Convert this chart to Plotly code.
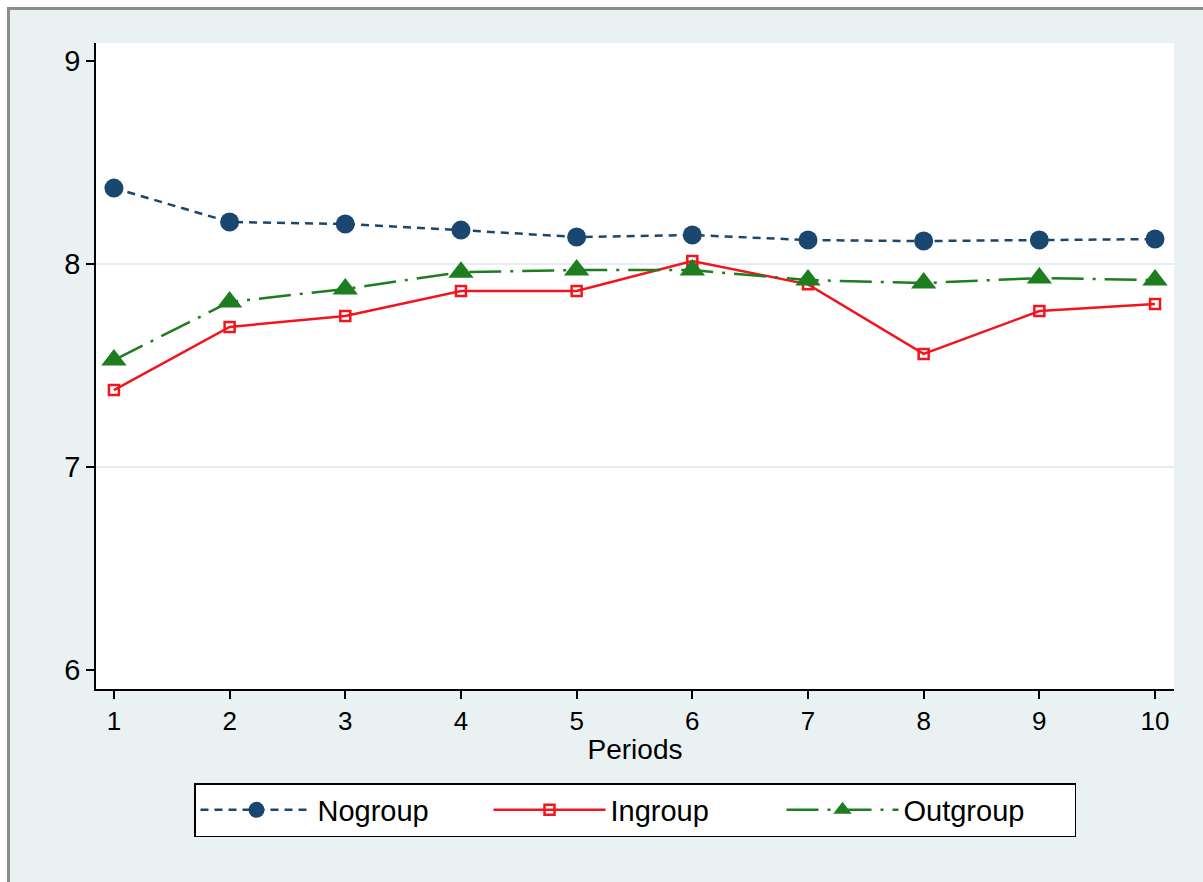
import plotly.graph_objects as go

periods = [1, 2, 3, 4, 5, 6, 7, 8, 9, 10]
nogroup = [8.374, 8.207, 8.197, 8.167, 8.133, 8.143, 8.118, 8.113, 8.118, 8.123]
ingroup = [7.379, 7.690, 7.744, 7.867, 7.867, 8.015, 7.900, 7.557, 7.768, 7.803]
outgroup = [7.527, 7.813, 7.877, 7.960, 7.970, 7.970, 7.921, 7.906, 7.931, 7.921]
y_ticks = [6, 7, 8, 9]
grid_values = [7, 8]

BG = "#EAF1F3"
GRID = "#E4EEF1"
NAVY = "#1A476F"
RED = "#F2141E"
GREEN = "#1E7D1E"

fig = go.Figure()
fig.add_trace(go.Scatter(
    x=periods, y=nogroup, name="Nogroup", mode="lines+markers",
    line=dict(color=NAVY, width=2.5, dash="8px,6px"),
    marker=dict(symbol="circle", size=19, color=NAVY),
))
fig.add_trace(go.Scatter(
    x=periods, y=ingroup, name="Ingroup", mode="lines+markers",
    line=dict(color=RED, width=2.5),
    marker=dict(symbol="square-open", size=10, color=RED, line=dict(width=2.5, color=RED)),
))
fig.add_trace(go.Scatter(
    x=periods, y=outgroup, name="Outgroup", mode="lines+markers",
    line=dict(color=GREEN, width=2.5, dash="32px,9px,3px,9px"),
    marker=dict(symbol="triangle-up", size=22, color=GREEN),
))

W, H = 1203, 882
L, R, T, B = 96, 1174, 43, 689
PW, PH = R - L, B - T


def px_x(x):
    return (x - L) / PW


def px_y(y):
    return (B - y) / PH


fig.update_layout(
    width=W, height=H,
    margin=dict(l=L, r=W - R, t=T, b=H - B, autoexpand=False),
    paper_bgcolor=BG, plot_bgcolor="white",
    font=dict(family="Liberation Sans, Arial, sans-serif", color="black", size=27),
    showlegend=True,
    legend=dict(
        orientation="h", x=0.5, xanchor="center", y=px_y(783), yanchor="top",
        bgcolor="white", bordercolor="black", borderwidth=1.5,
        font=dict(size=29), itemwidth=112, entrywidth=166,
        tracegroupgap=0,
    ),
    xaxis=dict(
        range=[0.845, 10.164], tickvals=periods, ticks="outside", ticklen=8,
        tickwidth=1.5, tickcolor="black", showline=True, linecolor="black",
        linewidth=1.5, showgrid=False, zeroline=False,
        title=dict(text="Periods", font=dict(size=28), standoff=4),
        tickfont=dict(size=26),
    ),
    yaxis=dict(
        range=[5.906, 9.089], tickvals=y_ticks, ticks="outside", ticklen=8,
        tickwidth=1.5, tickcolor="black", showline=True, linecolor="black",
        linewidth=1.5, showgrid=False, zeroline=False, tickfont=dict(size=29),
    ),
)

for g in grid_values:
    fig.add_shape(type="line", xref="paper", yref="y", x0=0, x1=1, y0=g, y1=g,
                  line=dict(color=GRID, width=2), layer="below")

# outer frame: white strips at top/left and gray border lines
fig.add_shape(type="rect", xref="paper", yref="paper",
              x0=px_x(-5), x1=px_x(W + 5), y0=px_y(7), y1=px_y(-5),
              fillcolor="white", line_width=0, layer="below")
fig.add_shape(type="rect", xref="paper", yref="paper",
              x0=px_x(-5), x1=px_x(7), y0=px_y(H + 5), y1=px_y(-5),
              fillcolor="white", line_width=0, layer="below")
fig.add_shape(type="rect", xref="paper", yref="paper",
              x0=px_x(7), x1=px_x(W + 5), y0=px_y(10), y1=px_y(7),
              fillcolor="#8C8C8C", line_width=0, layer="below")
fig.add_shape(type="rect", xref="paper", yref="paper",
              x0=px_x(7), x1=px_x(10), y0=px_y(H + 5), y1=px_y(7),
              fillcolor="#8C8C8C", line_width=0, layer="below")

fig.write_html("out.html")
